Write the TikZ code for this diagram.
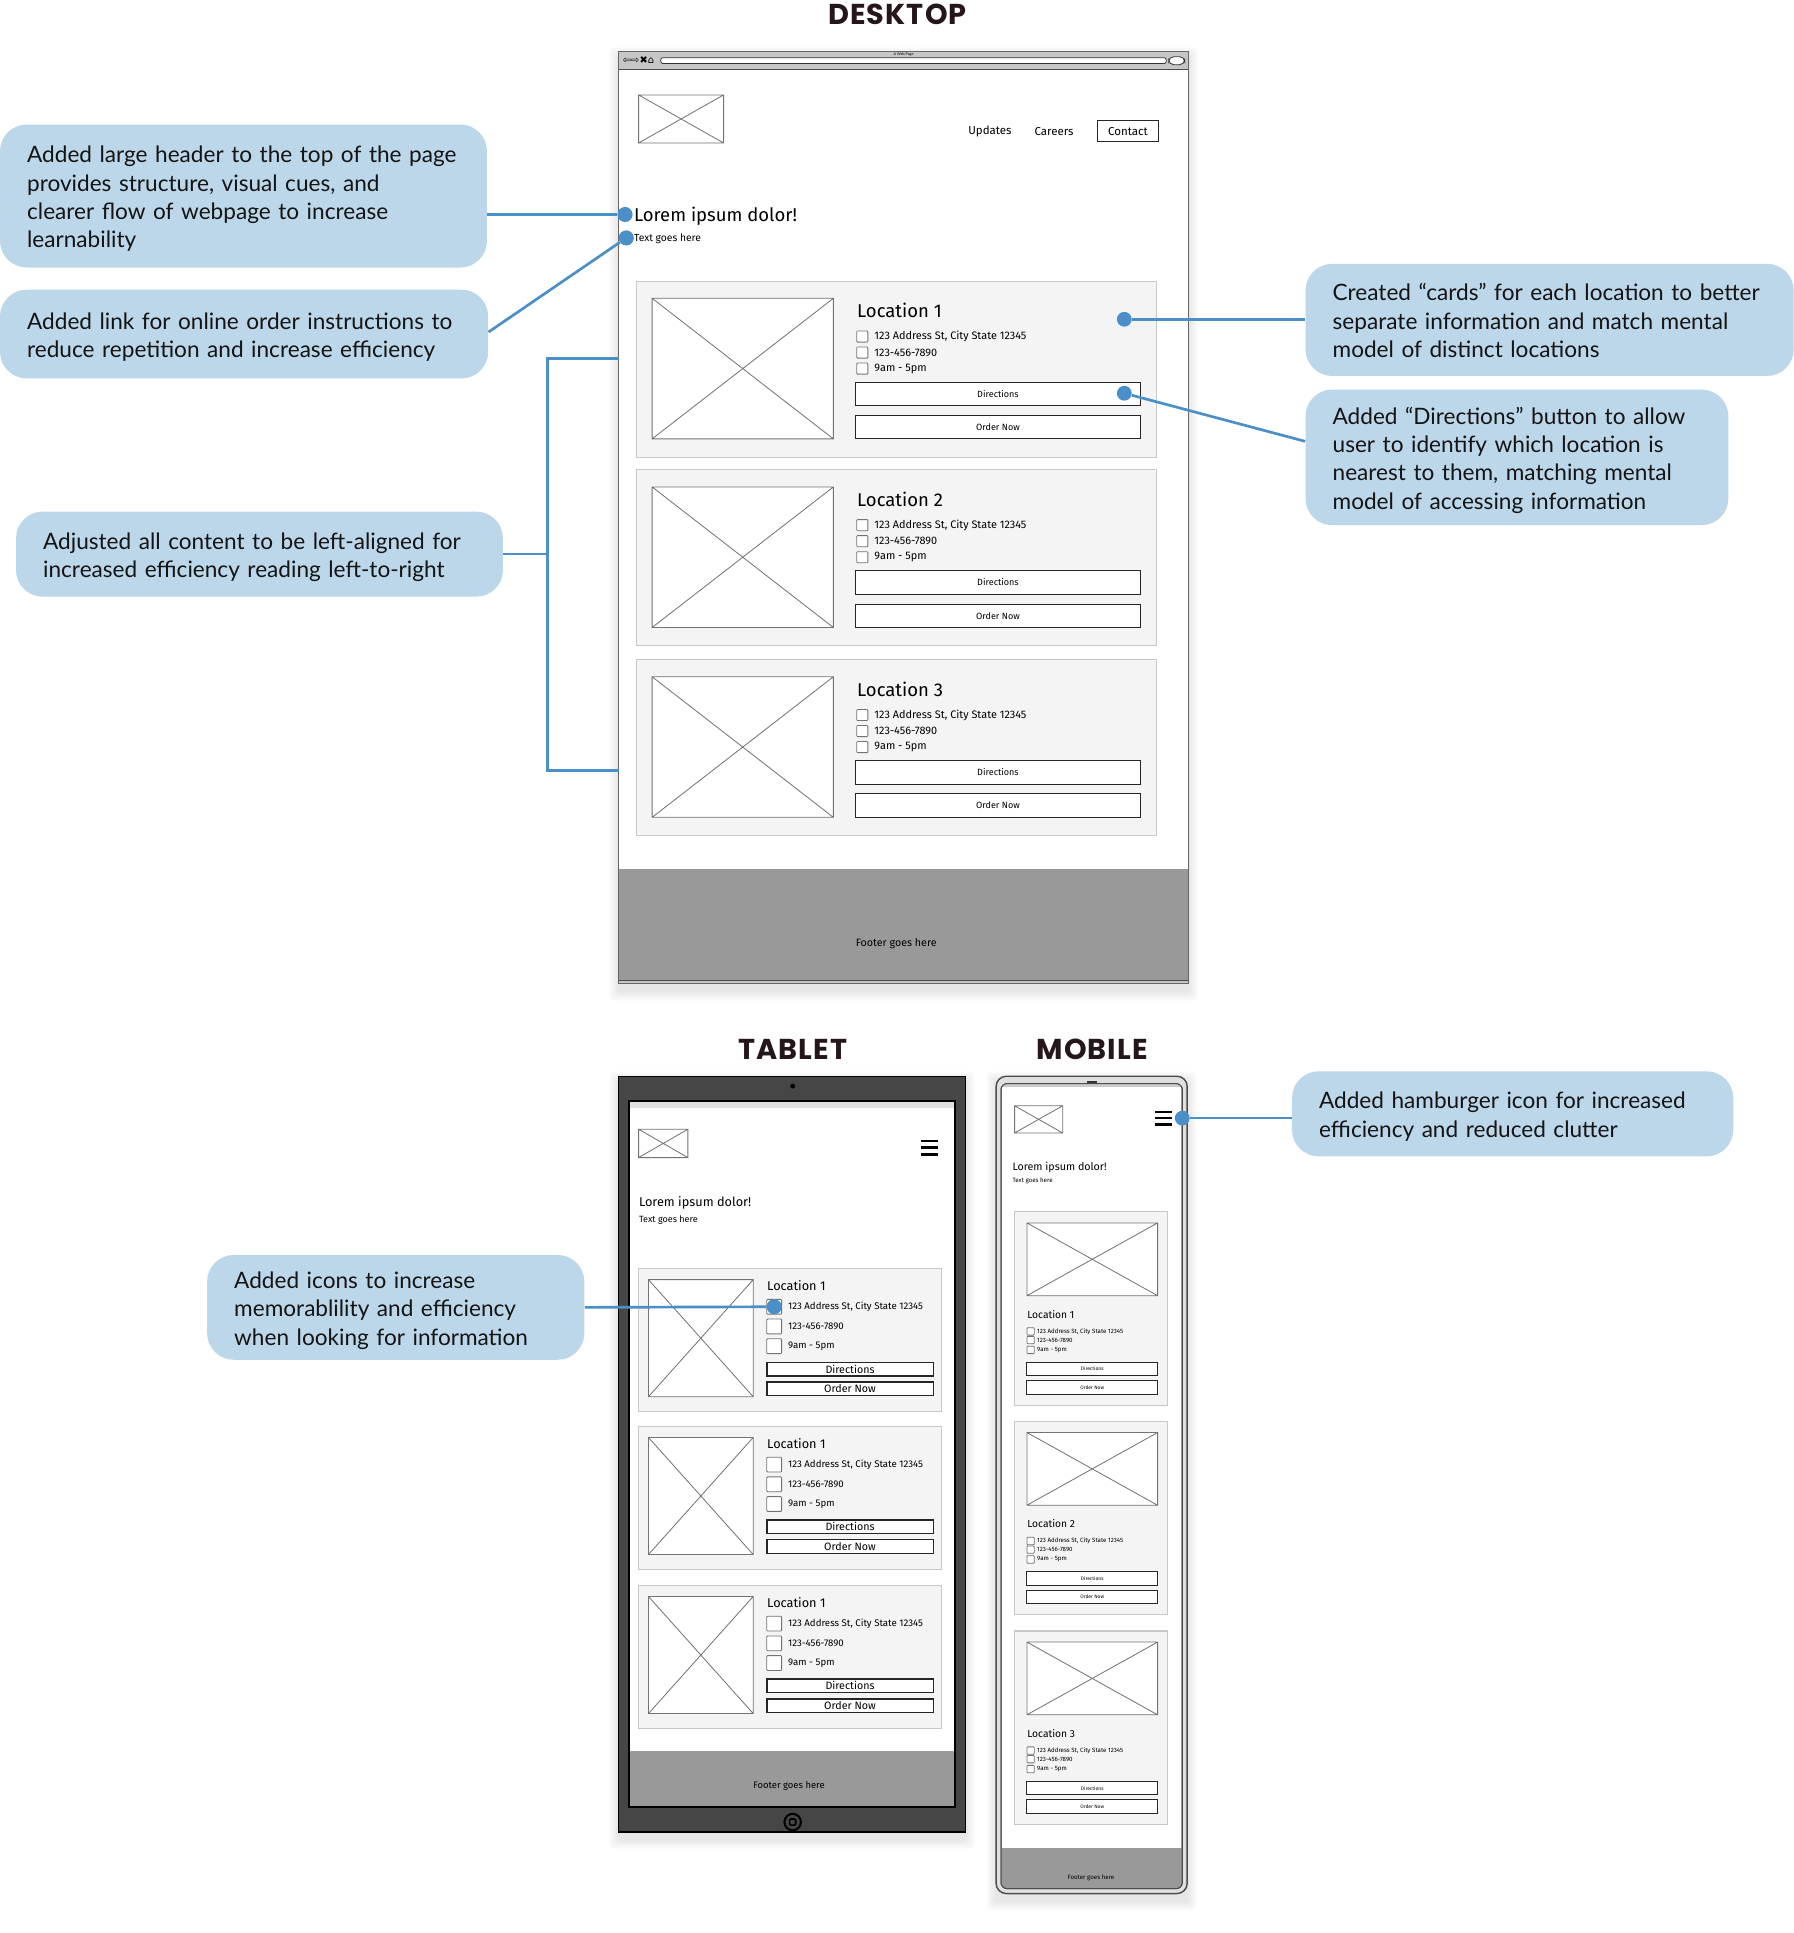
\documentclass[tikz,border=0pt]{standalone}
\usepackage{fontspec}
\setmainfont{Lato}
\newfontfamily\wf{Fira Sans}
\newfontfamily\ttl{Poppins}[LetterSpace=4]
\newfontfamily\symf{DejaVu Sans}
\usetikzlibrary{calc}
\definecolor{cblue}{HTML}{BDD7EA}
\definecolor{accent}{HTML}{4A8FC7}
\definecolor{cardfill}{HTML}{F4F4F4}
\definecolor{cardline}{HTML}{C8C8C8}
\definecolor{footg}{HTML}{999999}
\definecolor{barg}{HTML}{C6C6C6}
\definecolor{tabdark}{HTML}{464646}
\definecolor{ttlcol}{HTML}{24161A}
\newcommand\fs[1]{\fontsize{#1}{#1}\selectfont}
\newcommand\ph[4]{\draw[phl] (#1,#2) rectangle (#3,#4) (#1,#2) -- (#3,#4) (#1,#4) -- (#3,#2);}
\newcommand\softshadow[4]{\foreach \i in {1,...,8}{\fill[black,opacity=0.012,rounded corners=2pt] ({#1-\i},{#2-\i+4}) rectangle ({#3+\i},{#4+\i+6});}}
\newcommand\callout[6]{%
  \pgfmathsetmacro\cw{(#4-#2-44)*0.6}%
  \pgfmathsetmacro\ch{(#5-#3)*0.6}%
  \node[callout, text width=\cw pt, minimum height=\ch pt] (#1) at ({(#2+#4)/2},{(#3+#5)/2}) {\begin{tabular}{@{}l@{}}\rule{0pt}{13.2pt}#6\end{tabular}};}
% desktop card
\newcommand\dcard[2]{%
  \pgfmathsetmacro\tp{#1}%
  \draw[card] (516,\tp) rectangle (938,{\tp+143});
  \ph{529}{\tp+14}{676}{\tp+128}
  \node[wtxt,font=\wf\fs{9}] (dloc#2) at (695,{\tp+24}) {Location #2};
  \foreach \r/\s in {45/{123 Address St, City State 12345},58/{123-456-7890},71/{9am - 5pm}}{%
    \draw[chk] (695,{\tp+\r-4.5}) rectangle (704,{\tp+\r+4.5});
    \node[wtxt,font=\wf\fs{5.3}] (d#2r\r) at (709,{\tp+\r}) {\s};}
  \node[btn,minimum width=138.6pt,minimum height=11.4pt,font=\wf\fs{4.4}] (ddir#2) at (809.5,{\tp+91.5}) {Directions};
  \node[btn,minimum width=138.6pt,minimum height=11.4pt,font=\wf\fs{4.4}] (dord#2) at (809.5,{\tp+118.5}) {Order Now};
}
% tablet card
\newcommand\tcard[2]{%
  \pgfmathsetmacro\tp{#1}%
  \draw[card] (518,\tp) rectangle (764,{\tp+116});
  \ph{526}{\tp+9}{611}{\tp+104}
  \node[wtxt,font=\wf\fs{6.2}] (tloc#2) at (622,{\tp+14}) {Location 1};
  \foreach \r/\s in {31/{123 Address St, City State 12345},47/{123-456-7890},63/{9am - 5pm}}{%
    \draw[chk] (622,{\tp+\r-6}) rectangle (634,{\tp+\r+6});
    \node[wtxt,font=\wf\fs{4.7}] (t#2r\r) at (639,{\tp+\r}) {\s};}
  \node[btn,line width=0.7pt,minimum width=81pt,minimum height=6.6pt,font=\wf\fs{5.2}] (tdir#2) at (689.5,{\tp+81.5}) {Directions};
  \node[btn,line width=0.7pt,minimum width=81pt,minimum height=6.6pt,font=\wf\fs{5.2}] (tord#2) at (689.5,{\tp+97.5}) {Order Now};
}
% mobile card
\newcommand\mcard[2]{%
  \pgfmathsetmacro\tp{#1}%
  \draw[card] (823,\tp) rectangle (947,{\tp+157});
  \ph{833}{\tp+9}{939}{\tp+68}
  \node[wtxt,font=\wf\fs{5}] (mloc#2) at (833,{\tp+83}) {Location #2};
  \foreach \r/\s in {97/{123 Address St, City State 12345},104/{123-456-7890},112/{9am - 5pm}}{%
    \draw[chk] (833,{\tp+\r-3}) rectangle (839,{\tp+\r+3});
    \node[wtxt,font=\wf\fs{3}] (m#2r\r) at (841,{\tp+\r}) {\s};}
  \node[btn,minimum width=63.6pt,minimum height=6.6pt,font=\wf\fs{2.4}] (mdir#2) at (886,{\tp+127.5}) {Directions};
  \node[btn,minimum width=63.6pt,minimum height=6.6pt,font=\wf\fs{2.4}] (mord#2) at (886,{\tp+142.5}) {Order Now};
}
\begin{document}
\begin{tikzpicture}[x=0.6pt,y=-0.6pt,
  callout/.style={fill=cblue, rounded corners=13pt, align=left, inner xsep=13.2pt, inner ysep=0pt, font=\fontsize{11}{13.8}\selectfont, text=black!92},
  conn/.style={draw=accent, line width=1.3pt},
  dot/.style={circle, fill=accent, inner sep=0pt, minimum size=7.2pt},
  ttlstyle/.style={font=\ttl\bfseries\fs{14}, text=ttlcol, inner sep=0pt},
  card/.style={draw=cardline, fill=cardfill, line width=0.5pt},
  phl/.style={draw=black!55, line width=0.4pt, fill=white},
  chk/.style={draw=black!55, fill=white, line width=0.4pt, rounded corners=0.4pt},
  wtxt/.style={anchor=west, inner sep=0pt, text=black},
  btn/.style={draw=black!85, fill=white, line width=0.5pt, inner sep=0pt},
  footer/.style={fill=footg},
]
\useasboundingbox (0,0) rectangle (1455,1568);
\fill[white] (0,0) rectangle (1455,1568);

% ================= DESKTOP =================
\node[ttlstyle] (tdesk) at (728,12) {DESKTOP};
\softshadow{502}{42}{964}{798}
\fill[white] (502,42) rectangle (964,798);
\fill[barg] (502,42) rectangle (964,56);
\draw[black!70,line width=0.5pt] (502,56) -- (964,56);
\node[inner sep=0pt,font=\fs{1.8}] (dwt) at (733,44.5) {A Web Page};
\node[inner sep=0pt,anchor=west,font=\symf\fs{4.8}] (dicons) at (505,49) {⇦⇨✖⌂};
\draw[fill=white,draw=black!80,line width=0.4pt,rounded corners=1pt] (536,46.8) rectangle (946,51.5);
\draw[fill=white,draw=black!80,line width=0.4pt,rounded corners=2.5pt] (948,46) rectangle (961,52.5);
% logo & nav
\ph{518}{77}{587}{116}
\node[inner sep=0pt,font=\wf\fs{5.6}] (nupd) at (803,107) {Updates};
\node[inner sep=0pt,font=\wf\fs{5.6}] (ncar) at (855,107) {Careers};
\node[btn,minimum width=30pt,minimum height=10.2pt,font=\wf\fs{5.6},line width=0.6pt] (ncon) at (915,106.5) {Contact};
% header text
\node[wtxt,font=\wf\fs{9}] (dlorem) at (514,175.5) {Lorem ipsum dolor!};
\node[wtxt,font=\wf\fs{5}] (dtext) at (514,193.5) {Text goes here};
% cards
\dcard{228}{1}
\dcard{381}{2}
\dcard{535}{3}
% footer
\fill[footg] (502,705) rectangle (964,795);
\fill[barg] (502,795) rectangle (964,798);
\draw[black!70,line width=0.5pt] (502,795) -- (964,795);
\node[inner sep=0pt,font=\wf\fs{5.2}] (dfoot) at (727,765.5) {Footer goes here};
\draw[black!60,line width=0.6pt] (502,42) rectangle (964,798);

% ================= TABLET =================
\node[ttlstyle] (ttab) at (643,851) {TABLET};
\softshadow{502}{873}{783}{1486}
\draw[fill=tabdark,draw=black,line width=0.6pt] (502,873) rectangle (783,1486);
\fill[white] (510,893) rectangle (775,1466);
\fill[black!12] (510,893) rectangle (775,898.5);
\fill[black] (643,881) circle (1.2pt);
\draw[black,line width=1pt,fill=tabdark] (643,1478) circle (4pt);
\draw[black,line width=0.8pt,rounded corners=0.6pt] (640.5,1475.5) rectangle (645.5,1480.5);
\ph{518}{916}{558}{939}
\foreach \yy in {925.5,931,936.5}{\draw[line width=1.3pt] (747,\yy) -- (761,\yy);}
\coordinate (tham) at (754,931);
\node[wtxt,font=\wf\fs{6.2}] (tlorem) at (518,976) {Lorem ipsum dolor!};
\node[wtxt,font=\wf\fs{4.4}] (ttext) at (518,990) {Text goes here};
\tcard{1029}{1}
\tcard{1157}{2}
\tcard{1286}{3}
\fill[footg] (510,1420) rectangle (775,1466);
\node[inner sep=0pt,font=\wf\fs{4.6}] (tfoot) at (640,1449) {Footer goes here};
\draw[black,line width=1pt] (510,893) rectangle (775,1466);

% ================= MOBILE =================
\node[ttlstyle] (tmob) at (886,851) {MOBILE};
\softshadow{808}{873}{963}{1536}
\draw[fill=black!12,draw=black!70,line width=0.7pt,rounded corners=5pt] (808,873) rectangle (963,1536);
\draw[fill=white,draw=black!70,line width=0.5pt,rounded corners=3pt] (812,879) rectangle (959,1532);
\fill[black!20] (813,879.3) rectangle (958,882);
\draw[black!80,line width=0.8pt] (882,877.5) -- (890,877.5);
\ph{823}{897}{862}{919}
\foreach \yy in {902,907,912}{\draw[line width=1.3pt] (937,\yy) -- (951,\yy);}
\node[wtxt,font=\wf\fs{5.2}] (mlorem) at (821,947) {Lorem ipsum dolor!};
\node[wtxt,font=\wf\fs{3}] (mtext) at (821,958) {Text goes here};
\mcard{983}{1}
\mcard{1153}{2}
\mcard{1323}{3}
\begin{scope}
\clip[rounded corners=3pt] (812,879) rectangle (959,1532);
\fill[footg] (812,1499) rectangle (959,1532);
\end{scope}
\draw[draw=black!70,line width=0.5pt,rounded corners=3pt] (812,879) rectangle (959,1532);
\node[inner sep=0pt,font=\wf\fs{3}] (mfoot) at (885,1523) {Footer goes here};

% ================= CALLOUTS =================
\callout{c1}{0}{101}{395}{217}{Added large header to the top of the page\\provides structure, visual cues, and\\clearer flow of webpage to increase\\learnability}
\callout{c2}{0}{235}{396}{307}{Added link for online order instructions to\\reduce repetition and increase efficiency}
\callout{c3}{13}{415}{408}{484}{Adjusted all content to be left-aligned for\\increased efficiency reading left-to-right}
\callout{c4}{1059}{214}{1455}{305}{Created “cards” for each location to better\\separate information and match mental\\model of distinct locations}
\callout{c5}{1059}{316}{1402}{426}{Added “Directions” button to allow\\user to identify which location is\\nearest to them, matching mental\\model of accessing information}
\callout{c6}{168}{1018}{474}{1103}{Added icons to increase\\memorablility and efficiency\\when looking for information}
\callout{c7}{1048}{869}{1406}{938}{Added hamburger icon for increased\\efficiency and reduced clutter}

% dots
\node[dot] (p1) at (507,174) {};
\node[dot] (p2) at (508,193) {};
\node[dot] (p4) at (912,259) {};
\node[dot] (p5) at (912,319) {};
\node[dot] (p6) at (628,1060) {};
\node[dot] (p7) at (959,907) {};
\coordinate (b3a) at (444,291);
\coordinate (b3b) at (444,625);
\coordinate (b3c) at (502,291);
\coordinate (b3d) at (502,625);

% connectors
\draw[conn] (c1.east |- p1) -- (p1);
\draw[conn] ([yshift=1pt]c2.east) -- (p2);
\draw[conn] (c3.east) -- (c3.east -| b3a);
\draw[conn] (b3c) -- (b3a) -- (b3b) -- (b3d);
\draw[conn] (p4) -- (c4.west |- p4);
\draw[conn] (p5) -- ([yshift=7.8pt]c5.west);
\draw[conn] (c6.east) -- (p6);
\draw[conn] (p7) -- (c7.west |- p7);
\node[dot] at (p1) {};
\node[dot] at (p2) {};
\node[dot] at (p6) {};
\end{tikzpicture}
\end{document}
